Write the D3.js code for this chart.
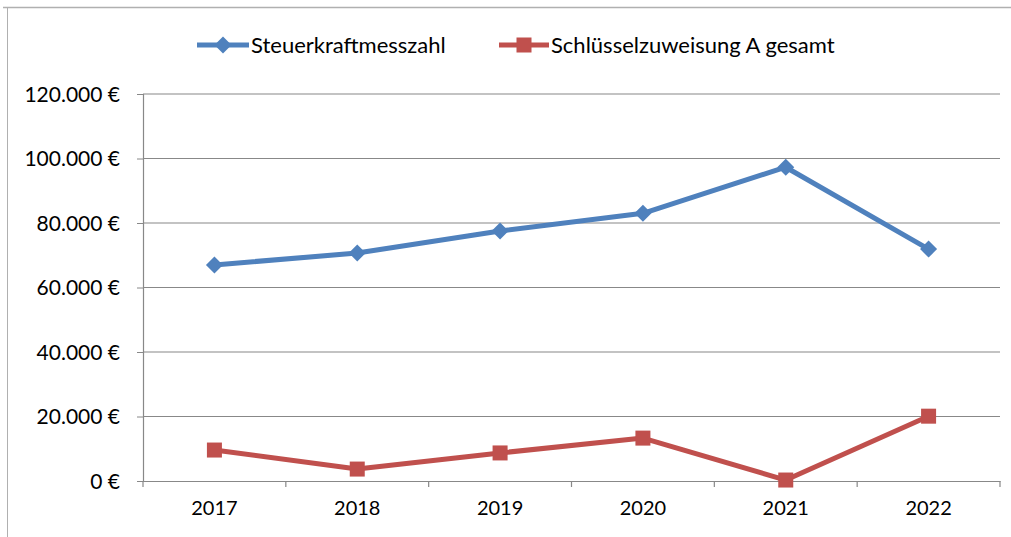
<!DOCTYPE html>
<html><head><meta charset="utf-8">
<script src="https://cdn.jsdelivr.net/npm/d3@7"></script>
<style>html,body{margin:0;padding:0;background:#fff;}svg{display:block;}</style>
</head><body>
<svg id="c" width="1011" height="537"></svg>
<script>
const categories = ["2017","2018","2019","2020","2021","2022"];
const steuerkraft = [67000, 70700, 77500, 83000, 97300, 71900];
const schluessel = [9600, 3700, 8700, 13300, 300, 20100];
const seriesNames = ["Steuerkraftmesszahl","Schlüsselzuweisung A gesamt"];
const yTicks = [0,20000,40000,60000,80000,100000,120000];

const svg = d3.select("#c");
const font = "Lato, 'Open Sans', sans-serif";
const pLeft = 143, pRight = 1000, pTop = 94, pBottom = 481;
const blue = "#4F81BD", red = "#C0504D", axisCol = "#888888";

// frame
svg.append("line").attr("x1",3).attr("x2",1011).attr("y1",7.5).attr("y2",7.5).attr("stroke","#b0b0b0").attr("stroke-width",1.5);
svg.append("line").attr("x1",7.5).attr("x2",7.5).attr("y1",7).attr("y2",537).attr("stroke","#b0b0b0").attr("stroke-width",1);

const x = d3.scaleBand().domain(categories).range([pLeft,pRight]);
const y = d3.scaleLinear().domain([0,120000]).range([pBottom,pTop]);
const fmt = v => d3.format(",")(v).replace(/,/g,".") + " €";

// grid
svg.append("g").selectAll("line").data(yTicks.filter(d=>d>0)).join("line")
  .attr("x1",pLeft).attr("x2",pRight).attr("y1",d=>y(d)).attr("y2",d=>y(d))
  .attr("stroke",axisCol).attr("stroke-width",1.2);

// y axis
const ya = svg.append("g").attr("transform",`translate(${pLeft},0)`)
  .call(d3.axisLeft(y).tickValues(yTicks).tickFormat(fmt).tickSize(6).tickPadding(17));
ya.select(".domain").attr("stroke",axisCol).attr("stroke-width",1.2);
ya.selectAll(".tick line").attr("stroke",axisCol);
ya.selectAll("text").attr("font-family",font).attr("font-size",21).attr("fill","#000").attr("dy","0.35em");

// x axis
const xa = svg.append("g").attr("transform",`translate(0,${pBottom})`)
  .call(d3.axisBottom(x).tickSize(0).tickPadding(20));
xa.select(".domain").attr("stroke",axisCol).attr("stroke-width",1.2);
xa.selectAll("text").attr("font-family",font).attr("font-size",20).attr("fill","#000");
const bounds = categories.map(c=>x(c)).concat([pRight]);
svg.append("g").selectAll("line").data(bounds).join("line")
  .attr("x1",d=>d).attr("x2",d=>d).attr("y1",pBottom).attr("y2",pBottom+6)
  .attr("stroke",axisCol).attr("stroke-width",1.2);

const cx = c => x(c) + x.bandwidth()/2;
const line = d3.line().x((d,i)=>cx(categories[i])).y(d=>y(d));

function diamond(g, px, py, s){
  g.append("path").attr("d",`M${px},${py-s}L${px+s},${py}L${px},${py+s}L${px-s},${py}Z`).attr("fill",blue);
}
function square(g, px, py, s){
  g.append("rect").attr("x",px-s).attr("y",py-s).attr("width",2*s).attr("height",2*s).attr("fill",red);
}

svg.append("path").datum(steuerkraft).attr("d",line).attr("fill","none").attr("stroke",blue).attr("stroke-width",5).attr("stroke-linejoin","round");
svg.append("path").datum(schluessel).attr("d",line).attr("fill","none").attr("stroke",red).attr("stroke-width",5).attr("stroke-linejoin","round");
const mg = svg.append("g");
steuerkraft.forEach((v,i)=>diamond(mg,cx(categories[i]),y(v),8.5));
schluessel.forEach((v,i)=>square(mg,cx(categories[i]),y(v),7.5));

// legend
const lg = svg.append("g");
const leg = [{x1:197,x2:249,tx:251,col:blue,type:"d"},{x1:499,x2:549,tx:551,col:red,type:"s"}];
leg.forEach((l,i)=>{
  lg.append("line").attr("x1",l.x1).attr("x2",l.x2).attr("y1",45).attr("y2",45).attr("stroke",l.col).attr("stroke-width",5);
  if(l.type==="d") diamond(lg,(l.x1+l.x2)/2,45,8.5); else square(lg,(l.x1+l.x2)/2,45,7.5);
  lg.append("text").attr("x",l.tx).attr("y",45).attr("dy","0.35em").attr("font-family",font).attr("font-size",22).text(seriesNames[i]);
});
</script>
</body></html>
